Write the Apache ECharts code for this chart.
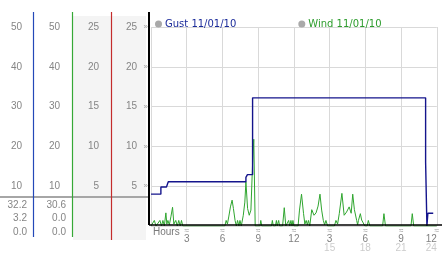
<!DOCTYPE html>
<html>
<head>
<meta charset="utf-8">
<script src="https://cdn.jsdelivr.net/npm/echarts@6/dist/echarts.min.js"></script>
<style>
html,body{margin:0;padding:0;background:#fff;}
#chart{width:442px;height:253px;}
</style>
</head>
<body>
<div id="chart"></div>
<script>
// ---- data ----
var gustName = 'Gust 11/01/10';
var windName = 'Wind 11/01/10';

var gustHours  = [0, 0.83, 1.3, 1.45, 7.97, 8.1, 8.53, 23.06, 23.17, 23.25, 23.7];
var gustValues = [8.0, 9.8, 10.3, 11.1, 12.2, 12.9, 32.2, 16.0, 0.0, 3.2, 3.2];

var windHours = [
  0, 0.28, 0.42, 0.75, 0.88, 1.0, 1.12, 1.25, 1.33, 1.42,
  1.54, 1.67, 1.81, 1.92, 2.08, 2.21, 2.33, 2.46, 2.56, 2.67,
  6.2, 6.31, 6.42, 6.54, 6.67, 6.81, 6.92, 7.06, 7.17, 7.27,
  7.38, 7.47, 7.58, 7.75, 7.88, 7.97, 8.11, 8.25, 8.39, 8.53,
  8.63, 8.75, 9.15, 9.22, 9.3, 10.12, 10.19, 10.27, 10.45, 10.53,
  10.6, 10.65, 10.72, 10.8, 11.05, 11.19, 11.32, 11.45, 11.56, 11.65,
  11.75, 11.84, 11.92, 12.0, 12.35, 12.47, 12.64, 12.81, 12.92, 13.03,
  13.13, 13.22, 13.33, 13.5, 13.69, 13.86, 14.03, 14.19, 14.33, 14.47,
  14.58, 14.69, 14.83, 15.4, 15.53, 15.67, 15.81, 16.03, 16.22, 16.42,
  16.64, 16.81, 16.94, 17.08, 17.27, 17.35, 17.42, 17.58, 17.69, 17.83,
  17.96, 18.15, 18.25, 18.38, 19.45, 19.56, 19.69, 21.83, 21.94, 22.06,
  24
];
var windValues = [
  0, 1.4, 0, 1.4, 0, 1.4, 0, 3.3, 0.5, 1.4,
  0.3, 2.3, 4.7, 0.5, 1.4, 0, 1.4, 0, 1.4, 0,
  0, 1.4, 0.5, 2.5, 4.8, 6.5, 4.4, 1.4, 0, 1.4,
  0, 1.4, 0, 2.7, 6, 11.1, 4.4, 2.7, 4, 15.7,
  21.8, 0, 0, 1.4, 0, 0, 1.4, 0, 0, 1.4,
  0, 0, 1.4, 0, 0, 4.6, 0, 0, 1.4, 0,
  1.4, 0, 1.4, 0, 0, 4, 8, 3.1, 0.5, 1.4,
  0.3, 1.4, 0, 4.1, 2.7, 3.3, 5, 8, 4, 1.4,
  0.3, 1.4, 0, 0, 1.4, 0.5, 3.1, 8.2, 2.7, 3.5,
  4.8, 3.2, 8, 4.1, 1.4, 0.3, 1.4, 3.1, 1.5, 1.4,
  0, 0, 1.4, 0, 0, 3.1, 0, 0, 3.1, 0,
  0
];

// summary values shown under the left scales (max / current / min)
var gustStats = ['32.2', '3.2', '0.0'];
var windStats = ['30.6', '0.0', '0.0'];

// ---- chart ----
function pairs(h, v) { return h.map(function (x, i) { return [x, v[i]]; }); }

var FONT = 'Liberation Sans';
var labelGrey = '#858585';

function sideAxis(max, interval, offset, margin) {
  return {
    type: 'value', position: 'left', min: 0, max: max, interval: interval, offset: offset,
    axisLine: { show: false }, axisTick: { show: false }, splitLine: { show: false },
    axisLabel: {
      margin: margin, color: labelGrey, fontSize: 10, fontFamily: FONT,
      formatter: function (v) { return v === 0 ? '' : String(v); }
    }
  };
}

var chart = echarts.init(document.getElementById('chart'), null, { renderer: 'canvas' });

var graphics = [
  { type: 'rect', shape: { x: 73, y: 16, width: 38, height: 224 }, style: { fill: '#f4f4f4' }, z: -10 },
  { type: 'rect', shape: { x: 112, y: 16, width: 34, height: 224 }, style: { fill: '#f4f4f4' }, z: -10 },
  { type: 'line', shape: { x1: 0, y1: 197, x2: 149, y2: 197 }, style: { stroke: '#a6a6a6', lineWidth: 2 }, z: 5 },
  { type: 'line', shape: { x1: 33.5, y1: 12, x2: 33.5, y2: 237 }, style: { stroke: '#2448b8', lineWidth: 1.2 }, z: 6 },
  { type: 'line', shape: { x1: 72.5, y1: 12, x2: 72.5, y2: 237 }, style: { stroke: '#36a836', lineWidth: 1.2 }, z: 6 },
  { type: 'line', shape: { x1: 111.5, y1: 12, x2: 111.5, y2: 240 }, style: { stroke: '#c42c2c', lineWidth: 1.2 }, z: 6 },
  { type: 'line', shape: { x1: 149, y1: 12, x2: 149, y2: 225 }, style: { stroke: '#000', lineWidth: 2 }, z: 20 },
  { type: 'line', shape: { x1: 149, y1: 225, x2: 442, y2: 225 }, style: { stroke: '#000', lineWidth: 1.3 }, z: 20 },
  { type: 'text', left: 153, top: 227, style: { text: 'Hours', fill: '#7a7a7a', font: '10px "' + FONT + '"' } }
];
var statY = [205, 218.5, 232];
gustStats.forEach(function (t, i) {
  graphics.push({ type: 'text', x: 27, y: statY[i], style: { text: t, fill: labelGrey, font: '10px "' + FONT + '"', align: 'right', verticalAlign: 'middle' } });
});
windStats.forEach(function (t, i) {
  graphics.push({ type: 'text', x: 66, y: statY[i], style: { text: t, fill: labelGrey, font: '10px "' + FONT + '"', align: 'right', verticalAlign: 'middle' } });
});

var option = {
  animation: false,
  backgroundColor: '#ffffff',
  grid: { left: 151, right: 3, top: 27, bottom: 27 },
  legend: {
    left: 150, top: 14, icon: 'circle', itemWidth: 7, itemHeight: 7, itemGap: 62,
    textStyle: { fontSize: 10, fontFamily: 'DejaVu Sans', padding: [0, 0, 0, -2] },
    data: [
      { name: gustName, itemStyle: { color: '#a9a9a9' }, textStyle: { color: '#1a2a9a' } },
      { name: windName, itemStyle: { color: '#a9a9a9' }, textStyle: { color: '#2c9c2c' } }
    ]
  },
  xAxis: [
    {
      type: 'value', position: 'bottom', min: 0, max: 24, interval: 3,
      axisLine: { show: false }, axisTick: { show: false }, axisLabel: { show: false },
      splitLine: { show: true, lineStyle: { color: '#d9d9d9', width: 1 } }
    },
    {
      type: 'value', position: 'bottom', min: 0, max: 24, interval: 3,
      axisLine: { show: false }, axisTick: { show: false }, splitLine: { show: false },
      axisLabel: { margin: 1, color: '#9a9a9a', fontSize: 8, fontFamily: FONT,
        formatter: function (h) { return h === 0 ? '' : '\u2248'; } }
    },
    {
      type: 'value', position: 'bottom', min: 0, max: 24, interval: 3,
      axisLine: { show: false }, axisTick: { show: false }, splitLine: { show: false },
      axisLabel: { margin: 8, color: '#808080', fontSize: 10, fontFamily: FONT, alignMaxLabel: 'right',
        formatter: function (h) { return h === 0 ? '' : String(h > 12 ? h - 12 : h); } }
    },
    {
      type: 'value', position: 'bottom', min: 0, max: 24, interval: 3,
      axisLine: { show: false }, axisTick: { show: false }, splitLine: { show: false },
      axisLabel: { margin: 17, color: '#cccccc', fontSize: 10, fontFamily: FONT, alignMaxLabel: 'right',
        formatter: function (h) { return h > 12 ? String(h) : ''; } }
    }
  ],
  yAxis: [
    {
      type: 'value', position: 'left', min: 0, max: 50, interval: 10,
      axisLine: { show: false }, axisTick: { show: false }, axisLabel: { show: false },
      splitLine: { show: true, lineStyle: { color: '#d9d9d9', width: 1 } }
    },
    sideAxis(50, 10, 121, 8),
    sideAxis(50, 10, 83, 8),
    sideAxis(25, 5, 44, 8),
    sideAxis(25, 5, 6, 8),
    {
      type: 'value', position: 'left', min: 0, max: 50, interval: 10, offset: 0,
      axisLine: { show: false }, axisTick: { show: false }, splitLine: { show: false },
      axisLabel: { margin: 3, color: '#a0a0a0', fontSize: 8, fontFamily: FONT,
        formatter: function (v) { return v === 0 ? '' : '\u00bb'; } }
    }
  ],
  series: [
    {
      name: windName, type: 'line', xAxisIndex: 0, yAxisIndex: 0,
      data: pairs(windHours, windValues), showSymbol: false, symbol: 'none',
      lineStyle: { color: '#2fa52f', width: 1 }, itemStyle: { color: '#2fa52f' }, z: 3
    },
    {
      name: gustName, type: 'line', xAxisIndex: 0, yAxisIndex: 0, step: 'end',
      data: pairs(gustHours, gustValues), showSymbol: false, symbol: 'none',
      lineStyle: { color: '#14148c', width: 1.4 }, itemStyle: { color: '#14148c' }, z: 4
    }
  ],
  graphic: graphics
};
chart.setOption(option);
</script>
</body>
</html>
